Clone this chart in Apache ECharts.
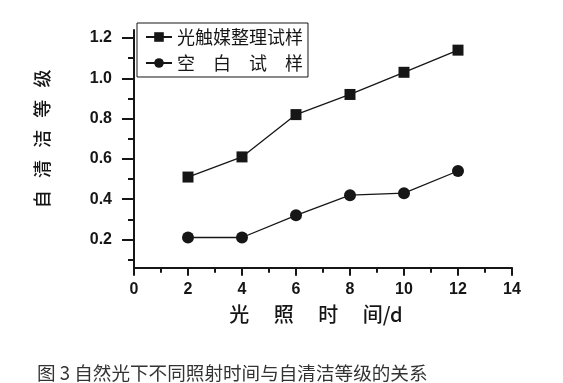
<!DOCTYPE html>
<html><head><meta charset="utf-8">
<script src="https://cdn.jsdelivr.net/npm/echarts@6/dist/echarts.min.js"></script>
<style>html,body{margin:0;padding:0;background:#fff}#c{width:563px;height:383px}</style>
</head><body><div id="c"></div>
<script>
const days = [2, 4, 6, 8, 10, 12];
const treated = [0.51, 0.61, 0.82, 0.92, 1.03, 1.14];
const blank = [0.21, 0.21, 0.32, 0.42, 0.43, 0.54];
const yMajor = [0.2, 0.4, 0.6, 0.8, 1.0, 1.2];
const yMinor = [0.1, 0.3, 0.5, 0.7, 0.9, 1.1];
const seriesNames = ['光触媒整理试样', '空　白　试　样'];
const xName = '光　 照　 时　 间/d';
const yName = '自   清   洁   等   级';
const caption = '图 3 自然光下不同照射时间与自清洁等级的关系';

const ink = '#161616';
const chart = echarts.init(document.getElementById('c'));
const axisFont = {fontFamily: 'Liberation Sans, Arial, sans-serif', fontSize: 16, fontWeight: 'bold', color: ink};
chart.setOption({
  animation: false,
  backgroundColor: '#fff',
  title: {
    text: caption, left: 32, top: 359,
    textStyle: {fontFamily: 'Noto Sans CJK SC', fontWeight: 'normal', fontSize: 18.6, color: '#333'}
  },
  legend: {
    orient: 'vertical', left: 137, top: 23,
    borderColor: ink, borderWidth: 1, padding: [5, 5, 5, 8],
    itemWidth: 26, itemHeight: 12, itemGap: 8,
    textStyle: {fontFamily: 'Noto Sans CJK SC', fontSize: 18, color: ink},
    data: seriesNames
  },
  grid: {left: 134, top: 30, right: 51, bottom: 115.3},
  xAxis: {
    type: 'value', min: 0, max: 14, interval: 2,
    name: xName, nameLocation: 'middle', nameGap: 37,
    nameTextStyle: {fontFamily: 'Noto Sans CJK SC', fontSize: 20, fontWeight: 500, color: ink, padding: [0, 14, 0, 0]},
    axisLine: {lineStyle: {color: ink, width: 2}},
    axisTick: {length: 8, lineStyle: {color: ink, width: 2}},
    minorTick: {show: true, splitNumber: 2, length: 5, lineStyle: {color: ink, width: 2}},
    axisLabel: Object.assign({margin: 14}, axisFont),
    splitLine: {show: false}
  },
  yAxis: [{
    type: 'value', min: 0.06, max: 1.24,
    name: yName, nameLocation: 'middle', nameGap: 83, nameRotate: 90,
    nameTextStyle: {fontFamily: 'Noto Sans CJK SC', fontSize: 18, fontWeight: 500, color: ink, padding: [0, 0, 0, 20]},
    axisLine: {show: true, lineStyle: {color: ink, width: 2}},
    axisTick: {show: true, length: 12, customValues: yMajor, lineStyle: {color: ink, width: 2}},
    axisLabel: Object.assign({margin: 22, customValues: yMajor, formatter: v => v.toFixed(1)}, axisFont),
    splitLine: {show: false}
  }, {
    type: 'value', min: 0.06, max: 1.24, position: 'left',
    axisLine: {show: false},
    axisTick: {show: true, length: 6, customValues: yMinor, lineStyle: {color: ink, width: 2}},
    axisLabel: {show: false},
    splitLine: {show: false}
  }],
  series: [{
    name: seriesNames[0], type: 'line', yAxisIndex: 0,
    data: days.map((d, i) => [d, treated[i]]),
    symbol: 'rect', symbolSize: 11,
    lineStyle: {color: ink, width: 1.3}, itemStyle: {color: ink}
  }, {
    name: seriesNames[1], type: 'line', yAxisIndex: 0,
    data: days.map((d, i) => [d, blank[i]]),
    symbol: 'circle', symbolSize: 12,
    lineStyle: {color: ink, width: 1.3}, itemStyle: {color: ink}
  }]
});
</script></body></html>
